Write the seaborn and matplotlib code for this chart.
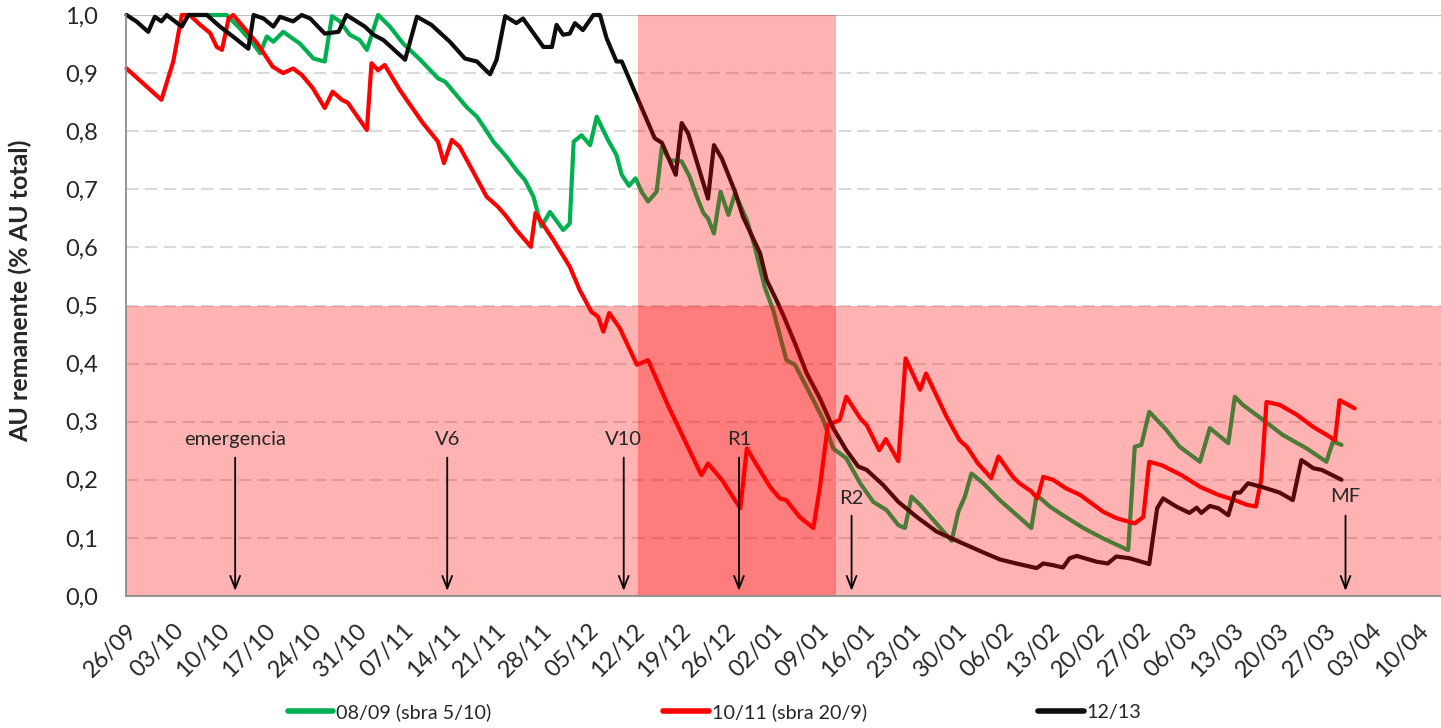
import pandas as pd
import seaborn as sns
import matplotlib.pyplot as plt
from matplotlib.lines import Line2D

# eje x: dias desde 26/09
fechas = ["26/09", "03/10", "10/10", "17/10", "24/10", "31/10", "07/11", "14/11",
          "21/11", "28/11", "05/12", "12/12", "19/12", "26/12", "02/01", "09/01",
          "16/01", "23/01", "30/01", "06/02", "13/02", "20/02", "27/02", "06/03",
          "13/03", "20/03", "27/03", "03/04", "10/04"]
valores_y = ["0,0", "0,1", "0,2", "0,3", "0,4", "0,5", "0,6", "0,7", "0,8", "0,9", "1,0"]

# 08/09 (sbra 5/10)
dias_0809 = [9.0, 15.2, 17.2, 19.2, 20.3, 21.3, 22.3, 23.8, 26.3, 28.4, 30.1, 31.2, 32.4,
             33.9, 35.4, 36.5, 38.2, 40.0, 42.0, 44.6, 47.3, 48.4, 51.6, 53.2, 54.4, 55.7,
             57.7, 59.2, 60.5, 61.8, 63.0, 64.3, 66.3, 67.3, 67.9, 69.1, 70.4, 71.4, 73.1,
             74.4, 75.2, 76.3, 77.3, 78.2, 79.2, 80.5, 81.3, 82.5, 84.3, 85.5, 86.6, 87.6,
             88.3, 89.2, 90.2, 91.4, 92.4, 94.2, 95.4, 96.9, 98.2, 100.2, 101.5, 104.3,
             105.8, 107.3, 109.3, 111.4, 113.4, 115.4, 117.2, 118.2, 119.2, 120.5, 122.5,
             125.3, 126.3, 127.3, 128.3, 130.1, 132.6, 134.6, 137.4, 138.2, 140.2, 142.2,
             145.3, 148.3, 152.1, 153.1, 154.1, 155.3, 157.9, 159.9, 163.0, 164.5, 167.3,
             168.3, 169.5, 172.6, 175.6, 179.2, 182.2, 183.2, 184.5]
au_0809 = [1.0, 1.0, 0.977, 0.951, 0.934, 0.963, 0.954, 0.971, 0.951, 0.925, 0.92, 0.998,
           0.989, 0.966, 0.957, 0.94, 1.0, 0.98, 0.951, 0.923, 0.891, 0.885, 0.842, 0.825,
           0.805, 0.782, 0.756, 0.733, 0.716, 0.687, 0.636, 0.661, 0.63, 0.641, 0.782,
           0.793, 0.776, 0.825, 0.785, 0.759, 0.725, 0.706, 0.719, 0.696, 0.679, 0.696,
           0.773, 0.75, 0.748, 0.722, 0.687, 0.659, 0.65, 0.624, 0.696, 0.656, 0.693,
           0.647, 0.601, 0.532, 0.492, 0.406, 0.398, 0.337, 0.303, 0.254, 0.237, 0.194,
           0.162, 0.148, 0.122, 0.117, 0.171, 0.157, 0.131, 0.095, 0.145, 0.171, 0.211,
           0.194, 0.165, 0.145, 0.117, 0.174, 0.154, 0.139, 0.117, 0.099, 0.079, 0.257,
           0.26, 0.317, 0.286, 0.257, 0.231, 0.289, 0.263, 0.343, 0.329, 0.303, 0.277,
           0.254, 0.231, 0.266, 0.26]

# 10/11 (sbra 20/9)
dias_1011 = [0.0, 5.3, 7.1, 8.4, 9.6, 11.2, 12.7, 13.7, 14.5, 15.5, 16.2, 17.7, 19.8, 22.2,
             23.8, 25.3, 26.6, 28.3, 30.1, 31.3, 32.7, 33.6, 36.5, 37.2, 38.2, 39.2, 41.5,
             45.0, 47.3, 48.2, 49.4, 50.6, 54.7, 56.4, 57.7, 59.2, 61.4, 62.1, 64.8, 67.3,
             68.8, 70.6, 71.6, 72.4, 73.3, 74.9, 77.5, 79.2, 82.3, 84.0, 87.3, 88.3, 90.4,
             93.2, 94.2, 95.4, 97.7, 99.2, 100.2, 102.2, 104.3, 105.3, 106.5, 108.3, 109.3,
             111.4, 112.4, 114.3, 115.3, 117.2, 118.3, 120.5, 121.4, 124.5, 126.5, 127.6,
             129.3, 131.3, 132.4, 134.6, 135.6, 137.4, 138.3, 139.2, 140.7, 142.7, 144.8,
             148.3, 150.3, 153.1, 154.4, 155.3, 157.2, 160.2, 163.0, 165.8, 168.3, 170.1,
             171.5, 172.3, 173.1, 175.1, 177.7, 180.2, 182.7, 183.5, 184.2, 186.5]
au_1011 = [0.908, 0.854, 0.92, 1.0, 1.0, 0.983, 0.969, 0.945, 0.94, 0.994, 1.0, 0.98, 0.952,
           0.911, 0.9, 0.908, 0.897, 0.874, 0.84, 0.868, 0.854, 0.849, 0.802, 0.917, 0.905,
           0.914, 0.871, 0.814, 0.782, 0.745, 0.785, 0.773, 0.687, 0.67, 0.653, 0.63, 0.601,
           0.659, 0.613, 0.567, 0.527, 0.489, 0.481, 0.455, 0.487, 0.461, 0.398, 0.406,
           0.326, 0.286, 0.208, 0.228, 0.2, 0.151, 0.254, 0.231, 0.188, 0.168, 0.165, 0.136,
           0.117, 0.188, 0.294, 0.303, 0.343, 0.306, 0.294, 0.251, 0.27, 0.232, 0.409,
           0.355, 0.383, 0.309, 0.268, 0.257, 0.228, 0.203, 0.24, 0.205, 0.194, 0.18, 0.168,
           0.205, 0.2, 0.185, 0.174, 0.145, 0.134, 0.125, 0.136, 0.231, 0.225, 0.208, 0.188,
           0.174, 0.165, 0.157, 0.154, 0.2, 0.334, 0.329, 0.312, 0.291, 0.274, 0.268, 0.337,
           0.323]

# 12/13
dias_1213 = [0.0, 1.5, 3.3, 4.3, 5.3, 6.1, 8.4, 9.4, 12.2, 14.2, 16.5, 18.5, 19.3, 20.8,
             22.3, 23.3, 25.3, 26.6, 27.9, 30.1, 32.2, 33.4, 36.2, 37.5, 39.0, 42.3, 44.1,
             46.3, 49.1, 51.4, 53.2, 55.2, 56.2, 57.5, 59.2, 60.2, 63.3, 64.6, 65.3, 66.3,
             67.3, 68.1, 69.3, 70.9, 71.9, 72.9, 74.4, 75.2, 77.7, 80.2, 81.3, 83.4, 84.3,
             85.3, 88.3, 89.2, 90.4, 92.4, 93.6, 96.2, 97.2, 98.7, 99.7, 101.5, 103.3, 105.3,
             107.3, 109.3, 111.1, 112.4, 114.9, 117.2, 120.0, 123.0, 125.5, 128.1, 130.1,
             132.6, 135.1, 138.2, 139.2, 140.7, 142.2, 143.2, 144.3, 147.3, 149.0, 150.3,
             152.3, 155.3, 156.5, 157.4, 159.4, 161.4, 162.5, 163.2, 164.5, 165.8, 167.3,
             168.3, 169.1, 170.3, 172.6, 175.1, 177.1, 178.4, 180.2, 181.5, 184.5]
au_1213 = [1.0, 0.989, 0.971, 0.997, 0.989, 1.0, 0.98, 1.0, 1.0, 0.98, 0.96, 0.942, 1.0,
           0.994, 0.98, 0.997, 0.989, 1.0, 0.994, 0.968, 0.971, 1.0, 0.98, 0.966, 0.957,
           0.923, 0.997, 0.983, 0.954, 0.925, 0.92, 0.898, 0.923, 0.998, 0.986, 0.994, 0.945,
           0.945, 0.983, 0.966, 0.968, 0.986, 0.974, 1.0, 1.0, 0.96, 0.92, 0.92, 0.854,
           0.788, 0.78, 0.725, 0.814, 0.796, 0.684, 0.776, 0.753, 0.696, 0.653, 0.59, 0.544,
           0.509, 0.484, 0.435, 0.383, 0.34, 0.289, 0.251, 0.223, 0.217, 0.191, 0.162,
           0.136, 0.111, 0.098, 0.085, 0.075, 0.063, 0.056, 0.048, 0.056, 0.053, 0.049,
           0.065, 0.069, 0.059, 0.056, 0.068, 0.065, 0.055, 0.151, 0.168, 0.154, 0.143,
           0.152, 0.143, 0.155, 0.151, 0.139, 0.178, 0.178, 0.194, 0.187, 0.178, 0.165,
           0.234, 0.22, 0.217, 0.2]

estadios = ["emergencia", "V6", "V10", "R1", "R2", "MF"]
dias_estadios = [16.5, 48.7, 75.5, 93.0, 110.1, 185.1]

campanias = ["08/09 (sbra 5/10)", "10/11 (sbra 20/9)", "12/13"]
colores = ["#00B050", "#FF0000", "#0D0D0D"]

sns.set_style("white")
plt.rcParams["font.family"] = ["Lato", "DejaVu Sans"]

fig = plt.figure(figsize=(14.41, 7.28), dpi=100)
ax = fig.add_axes([126.5 / 1441, 1 - 596 / 728, 1 - 126.5 / 1441, (596 - 15) / 728])

series = [(dias_0809, au_0809), (dias_1011, au_1011), (dias_1213, au_1213)]
for (dias, au), nombre, color in zip(series, campanias, colores):
    df = pd.DataFrame({"dia": dias, "au": au})
    sns.lineplot(data=df, x="dia", y="au", color=color, linewidth=3.0,
                 estimator=None, sort=False, ax=ax, zorder=2)
for ln in ax.lines:
    ln.set_clip_on(False)
    ln.set_solid_joinstyle("round")

# zonas criticas
ax.axhspan(0, 0.5, color="red", alpha=0.3, lw=0, zorder=3)
ax.axvspan(77.65, 107.7, ymin=0, ymax=1, color="red", alpha=0.3, lw=0, zorder=3)

# grilla
for v in [0.1, 0.2, 0.3, 0.4, 0.5, 0.6, 0.7, 0.8, 0.9]:
    ax.axhline(v, color="#D9D9D9", lw=1.5, ls=(0, (6, 3)), zorder=1)
ax.axhline(1.0, color="#BFBFBF", lw=1.5, zorder=1)

# estadios fenologicos
alto_texto = [0.27, 0.27, 0.27, 0.27, 0.168, 0.171]
alto_flecha = [0.243, 0.243, 0.243, 0.243, 0.143, 0.143]
for nombre, d, yt, yf in zip(estadios, dias_estadios, alto_texto, alto_flecha):
    ax.annotate("", xy=(d, 0.004), xytext=(d, yf),
                arrowprops=dict(arrowstyle="->,head_length=0.9,head_width=0.35",
                                color="black", lw=1.3), zorder=5)
    ax.text(d, yt, nombre, ha="center", va="center", fontsize=14.5, zorder=5)

ax.set_xlim(0, 199.6)
ax.set_ylim(0, 1)
ax.set_xticks(range(0, 197, 7))
ax.set_xticklabels(fechas, rotation=45, ha="right", va="top", rotation_mode="anchor",
                   fontsize=17)
ax.set_yticks([i / 10 for i in range(11)])
ax.set_yticklabels(valores_y, fontsize=17)
ax.tick_params(axis="x", length=7, width=1.2, color="#8C8C8C", pad=10)
ax.tick_params(axis="y", length=6.5, width=1.2, color="#8C8C8C", pad=14)
ax.set_xlabel("")
ax.set_ylabel("AU remanente (% AU total)", fontsize=18, fontweight="bold")
ax.yaxis.set_label_coords(-0.072, 0.525)

for s in ["top", "right"]:
    ax.spines[s].set_visible(False)
for s in ["left", "bottom"]:
    ax.spines[s].set_color("#8C8C8C")
    ax.spines[s].set_linewidth(1.3)
    ax.spines[s].set_zorder(6)

handles = [Line2D([], [], color=c, lw=4) for c in colores]
fig.legend(handles, campanias, loc="center", bbox_to_anchor=(0.496, 0.022), ncol=3,
           frameon=False, fontsize=14.2, handlelength=2.3, handletextpad=0.15,
           columnspacing=8.7)

fig.savefig("out.png", dpi=100)
